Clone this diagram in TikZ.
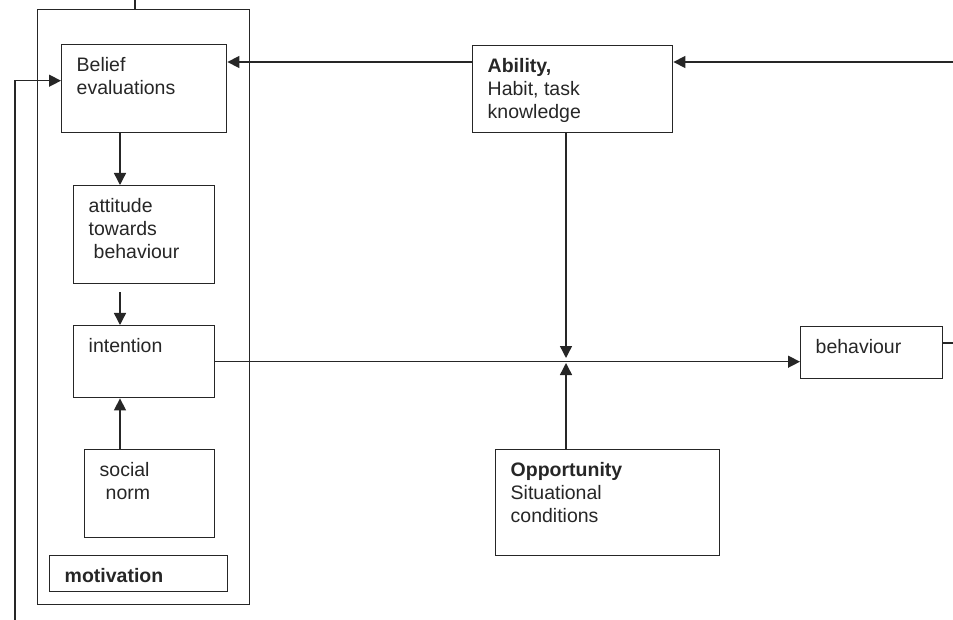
\documentclass[tikz,border=0pt]{standalone}
\usepackage{fontspec}
\setmainfont{Liberation Sans}
\usetikzlibrary{arrows.meta}

\begin{document}
\begin{tikzpicture}[x=1pt,y=-1pt,line width=1.4pt,draw=black!85,
   >={Triangle[length=12pt,width=12pt]},
   box/.style 2 args={draw,anchor=north west,inner sep=0pt,minimum width=#1,minimum height=#2},
   lbl/.style={anchor=north west,align=left,inner sep=0pt,xshift=15pt,yshift=-13pt,
      text=black!85,font=\fontsize{19.5}{23}\selectfont}]
   \useasboundingbox (0,0) rectangle (953,620);
   \node[box={212}{595}] (frame) at (37,9) {};
   \node[box={165}{88},label={[lbl]north west:{Belief\\evaluations}}] (belief) at (61,44) {};
   \node[box={141}{98},label={[lbl]north west:{attitude\\towards\\\hspace{5pt}behaviour}}] (attitude) at (73,185) {};
   \node[box={141}{72},label={[lbl]north west:{intention}}] (intention) at (73,325) {};
   \node[box={130}{88},label={[lbl]north west:{social\\\hspace{6pt}norm}}] (norm) at (84,449) {};
   \node[box={178}{36},label={[lbl]north west:{\textbf{motivation}}}] (motiv) at (49,555) {};
   \node[box={200}{87},label={[lbl]north west:{\textbf{Ability,}\\Habit, task\\knowledge}}] (ability) at (472,45) {};
   \node[box={142}{52},label={[lbl]north west:{behaviour}}] (behav) at (800,326) {};
   \node[box={224}{106},label={[lbl]north west:{\textbf{Opportunity}\\Situational\\conditions}}] (oppo) at (495,449) {};
%   \node[box={142}{52}] (behav) [right=of oppo] {};

   \coordinate (col) at (120,0);
   \coordinate (j) at (566,361);
   \coordinate (in_r) at (953,62);
   \coordinate (out_r) at (953,343);
   \coordinate (fb) at (15,620);
   \coordinate (tick) at (135,0);

   \draw[->] (belief.south -| col) -- (attitude.north -| col);
   \draw[->,shorten <=8pt] (attitude.south -| col) -- (intention.north -| col);
   \draw[->] (norm.north -| col) -- (intention.south -| col);
   \draw[->] (intention.east) -- (intention.east -| behav.west);
   \draw[->,shorten >=3pt] (ability.south -| j) -- (j);
   \draw[->,shorten >=2pt] (oppo.north -| j) -- (j);
   \draw[->] (in_r) -- (in_r -| ability.east);
   \draw[->] (in_r -| ability.west) -- (in_r -| belief.east);
   \draw[->] (fb) |- ([yshift=8pt]belief.west);
   \draw (out_r -| behav.east) -- (out_r);
   \draw (tick) -- (tick |- frame.north);
\end{tikzpicture}
\end{document}
